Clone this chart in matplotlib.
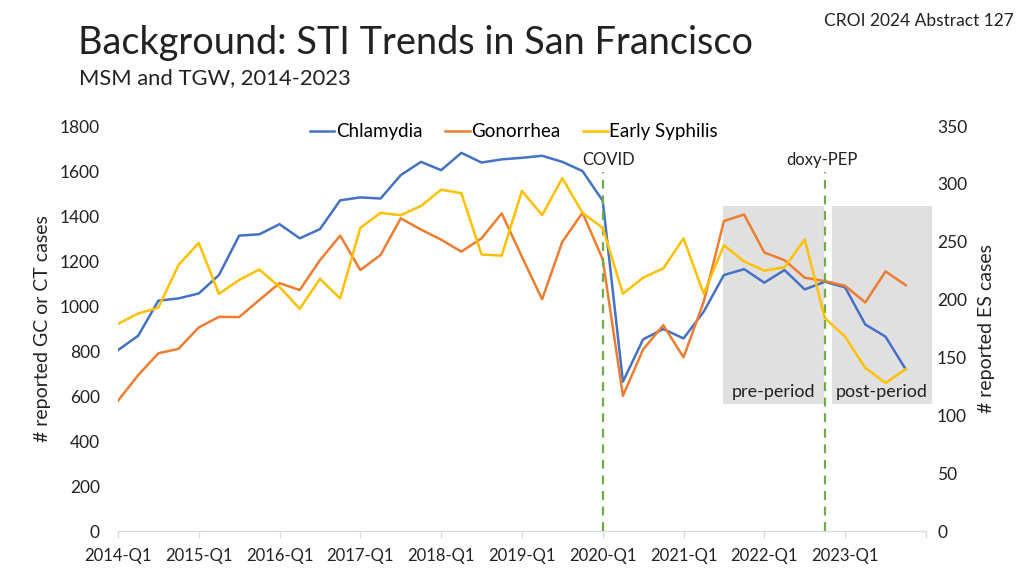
import matplotlib
matplotlib.use("Agg")
import matplotlib.pyplot as plt
from matplotlib.patches import Rectangle

plt.rcParams["font.family"] = ["Lato", "DejaVu Sans"]

# quarterly counts, 2014-Q1 .. 2023-Q4
quarters = [f"{y}-Q{q}" for y in range(2014, 2024) for q in range(1, 5)]
chlamydia = [804, 868, 1024, 1034, 1056, 1138, 1313, 1319, 1364, 1301,
             1342, 1470, 1483, 1478, 1582, 1641, 1604, 1681, 1638, 1652,
             1659, 1668, 1641, 1600, 1468, 664, 852, 898, 856, 975,
             1138, 1164, 1104, 1160, 1074, 1108, 1083, 918, 864, 719]
gonorrhea = [579, 693, 790, 810, 905, 952, 951, 1027, 1102, 1071,
             1204, 1313, 1160, 1227, 1390, 1340, 1295, 1242, 1301, 1412,
             1219, 1030, 1286, 1415, 1208, 601, 807, 915, 772, 1019,
             1378, 1407, 1238, 1204, 1126, 1111, 1090, 1016, 1154, 1093]
early_syphilis = [179, 188, 193, 230, 249, 205, 217, 226, 211, 192,
                  218, 201, 262, 275, 273, 281, 295, 292, 239, 238,
                  294, 273, 305, 275, 262, 205, 219, 227, 253, 205,
                  247, 233, 225, 228, 252, 184, 168, 141, 128, 140]

events = {"COVID": (24, 0.3), "doxy-PEP": (35, -0.15)}
periods = [("pre-period", 29.95, 34.95), ("post-period", 35.35, 40.3)]

BLUE, ORANGE, YELLOW, GREEN = "#4472C4", "#ED7D31", "#FFC000", "#70AD47"
TXT = "#222222"

fig = plt.figure(figsize=(10.24, 5.76), dpi=100)
ax = fig.add_axes([0.1152, 0.0781, 0.789, 0.703])
ax2 = ax.twinx()

x = list(range(len(quarters)))
l1, = ax.plot(x, chlamydia, color=BLUE, lw=1.8, label="Chlamydia", zorder=3)
l2, = ax.plot(x, gonorrhea, color=ORANGE, lw=1.8, label="Gonorrhea", zorder=3)
l3, = ax2.plot(x, early_syphilis, color=YELLOW, lw=1.8, label="Early Syphilis", zorder=3)

for name, x0, x1 in periods:
    ax.add_patch(Rectangle((x0, 565), x1 - x0, 880, facecolor="#E0E0E0",
                           edgecolor="none", zorder=1, clip_on=False))
    ax.text((x0 + x1) / 2, 620, name, ha="center", va="center", fontsize=13, color=TXT)

for name, (xi, dx) in events.items():
    ax.plot([xi, xi], [0, 1595], color=GREEN, lw=1.6, ls=(0, (4, 3)), zorder=4)
    ax.text(xi + dx, 1649, name, ha="center", va="center", fontsize=12, color=TXT)

ax.set_xlim(0, 40)
ax.set_ylim(0, 1800)
ax2.set_ylim(0, 350)
ax.set_yticks(range(0, 1801, 200))
ax2.set_yticks(range(0, 351, 50))
ax.set_xticks(range(0, 41, 4))
ax.set_xticklabels([quarters[i] if i < len(quarters) else "" for i in range(0, 41, 4)])

for a in (ax, ax2):
    for s in ("top", "left", "right"):
        a.spines[s].set_visible(False)
    a.spines["bottom"].set_color("#D9D9D9")
ax.tick_params(axis="x", length=5, color="#D9D9D9", labelsize=12, pad=7, labelcolor=TXT)
ax.tick_params(axis="y", length=0, labelsize=12.5, pad=13, labelcolor=TXT)
ax2.tick_params(axis="y", length=0, labelsize=12.5, pad=8, labelcolor=TXT)

ax.set_ylabel("# reported GC or CT cases", fontsize=14, labelpad=6, color=TXT)
ax2.set_ylabel("# reported ES cases", fontsize=14, labelpad=8, color=TXT)

fig.legend(handles=[l1, l2, l3], loc="center", bbox_to_anchor=(0.502, 0.771), ncol=3,
           frameon=False, fontsize=13.5, handlelength=1.3, handletextpad=0.1, columnspacing=1.2)

fig.text(0.076, 0.925, "Background: STI Trends in San Francisco", fontsize=27.3,
         va="center", color=TXT)
fig.text(0.077, 0.864, "MSM and TGW, 2014-2023", fontsize=15.8, va="center", color=TXT)
fig.text(0.99, 0.964, "CROI 2024 Abstract 127", fontsize=12.5, ha="right", va="center", color=TXT)

fig.savefig("out.png", dpi=100)
